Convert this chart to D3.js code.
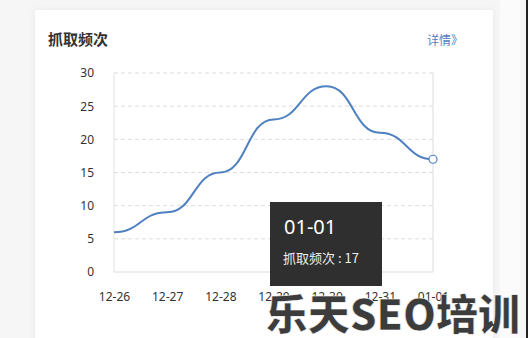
<!DOCTYPE html>
<html>
<head>
<meta charset="utf-8">
<script src="https://cdn.jsdelivr.net/npm/d3@7"></script>
<style>
  body { margin: 0; background: #f6f6f6; }
  svg { display: block; }
</style>
</head>
<body>
<div id="chart"></div>
<script>
// chart data
const dates = ["12-26", "12-27", "12-28", "12-29", "12-30", "12-31", "01-01"];
const counts = [6, 9, 15, 23, 28, 21, 17];
const yTicks = [0, 5, 10, 15, 20, 25, 30];
const tipDate = "01-01";
const tipLabel = "抓取频次";

const W = 528, H = 338;
const margin = {top: 73, right: 95, bottom: 66, left: 114},
    width = W - margin.left - margin.right,
    height = H - margin.top - margin.bottom;

const root = d3.select("#chart")
  .append("svg")
    .attr("width", W)
    .attr("height", H);

// card with soft shadow
const defs = root.append("defs");
const f = defs.append("filter").attr("id", "shadow").attr("x", "-5%").attr("y", "-5%").attr("width", "110%").attr("height", "110%");
f.append("feDropShadow").attr("dx", 0).attr("dy", 0).attr("stdDeviation", 3).attr("flood-color", "#000").attr("flood-opacity", 0.06);

root.append("rect")
  .attr("x", 35).attr("y", 10).attr("width", 458).attr("height", 340)
  .attr("fill", "#fff").attr("filter", "url(#shadow)");

root.append("rect").attr("x", 500).attr("y", 0).attr("width", 20).attr("height", H).attr("fill", "#fbfbfb");
root.append("rect").attr("x", 526).attr("y", 0).attr("width", 2).attr("height", H).attr("fill", "#222");

root.append("text")
  .attr("x", 48).attr("y", 45)
  .attr("font-family", "'Noto Sans CJK SC', sans-serif")
  .attr("font-size", 15).attr("font-weight", "bold")
  .attr("fill", "#333")
  .text("抓取频次");

root.append("text")
  .attr("x", 463).attr("y", 45)
  .attr("text-anchor", "end")
  .attr("font-family", "'Noto Sans CJK SC', sans-serif")
  .attr("font-size", 12)
  .attr("fill", "#4d7fc0")
  .text("详情》");

const svg = root.append("g")
  .attr("transform", `translate(${margin.left}, ${margin.top})`);

const xScale = d3.scalePoint().domain(dates).range([0, width]);
const yScale = d3.scaleLinear().domain([0, 30]).range([height, 0]);

// dashed grid
svg.append("g")
  .selectAll("line")
  .data(yTicks.filter(d => d > 0))
  .enter()
  .append("line")
    .attr("x1", 0).attr("x2", width)
    .attr("y1", d => yScale(d)).attr("y2", d => yScale(d))
    .attr("stroke", "#ddd")
    .attr("stroke-dasharray", "4,3");

// frame lines
svg.append("line").attr("x1", 0).attr("x2", 0).attr("y1", 0).attr("y2", height).attr("stroke", "#e2e2e2");
svg.append("line").attr("x1", width).attr("x2", width).attr("y1", 0).attr("y2", height).attr("stroke", "#ddd");
svg.append("line").attr("x1", 0).attr("x2", width).attr("y1", height).attr("y2", height).attr("stroke", "#ddd");

const yAxis = svg.append("g")
  .call(d3.axisLeft(yScale).tickValues(yTicks).tickSize(0).tickPadding(20));
yAxis.select(".domain").remove();
yAxis.selectAll("text")
  .attr("font-family", "'Noto Sans', sans-serif")
  .attr("font-size", 12)
  .attr("fill", "#333");

const xAxis = svg.append("g")
  .attr("transform", `translate(0, ${height})`)
  .call(d3.axisBottom(xScale).tickSize(0).tickPadding(20));
xAxis.select(".domain").remove();
xAxis.selectAll("text")
  .attr("font-family", "'Noto Sans', sans-serif")
  .attr("font-size", 12)
  .attr("fill", "#333");

const line = d3.line()
  .x((d, i) => xScale(dates[i]))
  .y(d => yScale(d))
  .curve(d3.curveBumpX);

svg.append("path")
  .datum(counts)
  .attr("fill", "none")
  .attr("stroke", "#4f80c0")
  .attr("stroke-width", 2)
  .attr("d", line);

const last = counts.length - 1;
svg.append("circle")
  .attr("cx", xScale(dates[last]))
  .attr("cy", yScale(counts[last]))
  .attr("r", 4)
  .attr("fill", "#fff")
  .attr("stroke", "#4f80c0")
  .attr("stroke-width", 1.2);

// tooltip
const tip = root.append("g").attr("transform", "translate(270, 202)");
tip.append("rect").attr("width", 112).attr("height", 84).attr("fill", "#2f2f2f");
tip.append("text")
  .attr("x", 14).attr("y", 32)
  .attr("font-family", "'Noto Sans', sans-serif")
  .attr("font-size", 20)
  .attr("fill", "#fff")
  .text(tipDate);
tip.append("text")
  .attr("x", 13).attr("y", 61)
  .attr("font-family", "'Noto Sans CJK SC', sans-serif")
  .attr("font-size", 13)
  .attr("fill", "#eee")
  .text(tipLabel + " : " + counts[last]);

// watermark
root.append("text")
  .attr("x", 520).attr("y", 330)
  .attr("text-anchor", "end")
  .attr("font-family", "'Noto Sans CJK SC', sans-serif")
  .attr("font-size", 42).attr("font-weight", "900")
  .attr("fill", "#3c3c3c")
  .attr("stroke", "#fff").attr("stroke-width", 0.5)
  .text("乐天SEO培训");
</script>
</body>
</html>
